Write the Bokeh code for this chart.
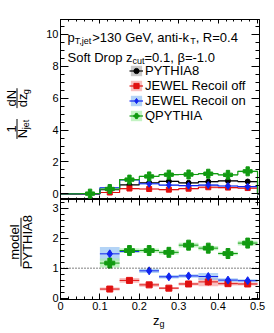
from bokeh.plotting import figure
from bokeh.layouts import column, row
from bokeh.models import (Label, Range1d, LinearAxis, FixedTicker,
                          Span, Legend, LegendItem)
from bokeh.embed import file_html
from bokeh.resources import INLINE

FONT = "Liberation Sans"

# ---------------- data ----------------
edges = [0.0, 0.05, 0.1, 0.15, 0.2, 0.25, 0.3, 0.35, 0.4, 0.45, 0.5]

pythia8        = [0.0, 0.0, 0.26, 0.56, 0.69, 0.78, 0.69, 0.76, 0.81, 0.77]
pythia8_sys    = [0.0, 0.0, 0.02, 0.03, 0.03, 0.04, 0.04, 0.05, 0.05, 0.04]
pythia8_stat   = [0.0, 0.0, 0.02, 0.03, 0.03, 0.03, 0.03, 0.03, 0.03, 0.03]
recoil_off     = [0.0, 0.0, 0.08, 0.33, 0.30, 0.26, 0.32, 0.41, 0.39, 0.36]
recoil_off_sys = [0.0, 0.0, 0.02, 0.04, 0.03, 0.03, 0.04, 0.08, 0.04, 0.04]
recoil_off_stat= [0.0, 0.0, 0.02, 0.02, 0.02, 0.02, 0.02, 0.04, 0.02, 0.02]
recoil_on      = [0.0, 0.0, 0.38, 0.87, 0.63, 0.55, 0.51, 0.55, 0.49, 0.45]
recoil_on_sys  = [0.0, 0.0, 0.05, 0.04, 0.04, 0.04, 0.04, 0.07, 0.04, 0.04]
recoil_on_stat = [0.0, 0.0, 0.04, 0.04, 0.03, 0.03, 0.03, 0.04, 0.03, 0.03]
qpythia        = [0.0, 0.01, 0.30, 0.89, 1.09, 1.20, 1.21, 1.26, 1.19, 1.41]
qpythia_sys    = [0.0, 0.01, 0.03, 0.04, 0.04, 0.05, 0.05, 0.05, 0.05, 0.06]
qpythia_stat   = [0.0, 0.01, 0.03, 0.04, 0.04, 0.04, 0.04, 0.04, 0.04, 0.05]

ratio_edges    = [0.1, 0.15, 0.2, 0.25, 0.3, 0.35, 0.4, 0.45, 0.5]
ratio_off      = [0.30, 0.59, 0.44, 0.33, 0.47, 0.54, 0.48, 0.47]
ratio_off_sys  = [0.05, 0.08, 0.06, 0.04, 0.05, 0.15, 0.06, 0.05]
ratio_off_stat = [0.03, 0.04, 0.03, 0.03, 0.04, 0.12, 0.04, 0.04]
ratio_on       = [1.48, 1.56, 0.91, 0.71, 0.74, 0.72, 0.60, 0.58]
ratio_on_sys   = [0.23, 0.05, 0.07, 0.06, 0.06, 0.12, 0.06, 0.05]
ratio_on_stat  = [0.12, 0.08, 0.06, 0.05, 0.06, 0.08, 0.06, 0.06]
ratio_q        = [1.17, 1.59, 1.59, 1.53, 1.77, 1.67, 1.49, 1.84]
ratio_q_sys    = [0.15, 0.08, 0.07, 0.07, 0.08, 0.07, 0.06, 0.08]
ratio_q_stat   = [0.08, 0.07, 0.06, 0.06, 0.06, 0.06, 0.05, 0.06]

labels = ["PYTHIA8", "JEWEL Recoil off", "JEWEL Recoil on", "QPYTHIA"]

x_ticks = [0.0, 0.1, 0.2, 0.3, 0.4, 0.5]
x_tick_labels = ["0", "0.1", "0.2", "0.3", "0.4", "0.5"]
x_minor = [round(i * 0.02, 2) for i in range(26)]
yt_ticks = [0, 2, 4, 6, 8, 10]
yt_minor = [i * 0.5 for i in range(23)]
yb_ticks = [0, 1, 2, 3]
yb_minor = [round(i * 0.2, 1) for i in range(17)]

# ---------------- style / layout ----------------
colors = ["#000000", "#e01010", "#1024f0", "#119a11"]
band_colors = ["#b4b4b4", "#f5a3a3", "#94c2f2", "#aaeeaa"]
markers = ["circle", "square", "diamond", "plus"]
msizes = [6, 6, 8, 10]

XR = (0.0, 0.505)
YT = (-0.358, 10.94)
YB = (-0.05, 3.30)
LABW = 36                    # width of the y-title strips
FW, FHT, FHB = 199, 180, 100
FL = 60                      # frame left (canvas px)
TOPB = 19                    # border above the top frame
BOTB = 15                    # border below the ratio frame
TOPH = TOPB + FHT            # 199
BOTH = FHB + BOTB            # 115
XLABH = 18
RIGHTB = 14

def tx(px):
    return XR[0] + (px - FL) * (XR[1] - XR[0]) / FW

def ty_top(py):
    return YT[0] + (TOPH - py) * (YT[1] - YT[0]) / FHT

AW = {' ': 278, ',': 278, '-': 333, '.': 278, '=': 584, '>': 584, 'β': 575,
      'A': 667, 'D': 722, 'E': 667, 'G': 778, 'H': 722, 'I': 278, 'J': 500, 'L': 556,
      'N': 722, 'P': 667, 'R': 722, 'S': 667, 'T': 611, 'V': 667, 'W': 944, 'Y': 667,
      'a': 556, 'c': 500, 'd': 556, 'e': 556, 'f': 278, 'g': 556, 'i': 222, 'j': 222,
      'k': 500, 'l': 222, 'm': 833, 'n': 556, 'o': 556, 'p': 556, 'r': 333, 't': 278,
      'u': 556, 'z': 500}

def tw(s, size):
    return sum(AW.get(c, 556) for c in s) * size / 1000.0


def clean(p):
    p.xgrid.visible = False
    p.ygrid.visible = False
    p.background_fill_color = "white"
    p.border_fill_color = "white"


def make_fig(yr, fh, btop, bbot):
    p = figure(x_range=Range1d(*XR), y_range=Range1d(*yr), frame_width=FW, frame_height=fh,
               output_backend="svg", toolbar_location=None,
               x_axis_location=None, y_axis_location=None,
               min_border_left=FL - LABW, min_border_right=RIGHTB,
               min_border_top=btop, min_border_bottom=bbot)
    clean(p)
    p.outline_line_color = "black"
    p.outline_line_width = 1
    return p


def make_strip(w, h):
    p = figure(width=w, height=h, x_range=Range1d(0, w), y_range=Range1d(0, h),
               output_backend="svg", toolbar_location=None,
               x_axis_location=None, y_axis_location=None, min_border=0)
    clean(p)
    p.outline_line_color = None
    return p


def add_axis(p, side, ticks, minor, tl, ml, show_labels, overrides=None):
    ax = LinearAxis(ticker=FixedTicker(ticks=ticks, minor_ticks=minor))
    ax.major_tick_in = tl
    ax.major_tick_out = 0
    ax.minor_tick_in = ml
    ax.minor_tick_out = 0
    ax.axis_line_color = "black"
    ax.major_tick_line_color = "black"
    ax.minor_tick_line_color = "black"
    if show_labels:
        ax.major_label_text_font = FONT
        ax.major_label_text_font_size = "11px"
        ax.major_label_text_color = "black"
        ax.major_label_standoff = 2
        if overrides:
            ax.major_label_overrides = overrides
    else:
        ax.major_label_text_font_size = "1px"
        ax.major_label_text_color = None
        ax.major_label_standoff = 0
        ax.major_label_overrides = {t: "" for t in ticks}
    p.add_layout(ax, side)


def add_text(p, x, y, text, size, angle=0, align="left", baseline="alphabetic"):
    p.add_layout(Label(x=x, y=y, text=text, text_font=FONT, text_font_size=f"{size}px",
                       text_color="black", angle=angle, angle_units="deg",
                       text_align=align, text_baseline=baseline))


# ---------------- top panel ----------------
top = make_fig(YT, FHT, TOPB, 0)
add_axis(top, "left", yt_ticks, yt_minor, 8, 4, True)
add_axis(top, "right", yt_ticks, yt_minor, 8, 4, False)
add_axis(top, "above", x_ticks, x_minor, 4, 2, False)
add_axis(top, "below", x_ticks, x_minor, 4, 2, False)

top_series = [(pythia8, pythia8_sys, pythia8_stat),
              (recoil_off, recoil_off_sys, recoil_off_stat),
              (recoil_on, recoil_on_sys, recoil_on_stat),
              (qpythia, qpythia_sys, qpythia_stat)]

legend_items = []
for k, (vals, sys_, stat) in enumerate(top_series):
    idx = [i for i in range(len(vals)) if sys_[i] > 0]
    band = top.quad(left=[edges[i] for i in idx], right=[edges[i + 1] for i in idx],
                    bottom=[vals[i] - sys_[i] for i in idx], top=[vals[i] + sys_[i] for i in idx],
                    fill_color=band_colors[k], fill_alpha=0.7, line_alpha=0)
    xs, ys = [], []
    for i, v in enumerate(vals):
        xs += [edges[i], edges[i + 1]]
        ys += [v, v]
    xs += [edges[-1], XR[1]]
    ys += [0, 0]
    line = top.line(xs, ys, line_color=colors[k], line_width=1.2)
    cen = [(edges[i] + edges[i + 1]) / 2 for i in idx]
    top.segment(x0=cen, x1=cen, y0=[vals[i] - stat[i] for i in idx],
                y1=[vals[i] + stat[i] for i in idx], line_color=colors[k], line_width=1)
    mk = top.scatter(cen, [vals[i] for i in idx], marker=markers[k], size=msizes[k] - 1,
                     fill_color=colors[k], line_color=colors[k])
    legend_items.append(LegendItem(label=labels[k], renderers=[band, line, mk]))

legend = Legend(items=legend_items, location=(69, 76), orientation="vertical",
                glyph_width=14, glyph_height=13, label_height=13, spacing=-1,
                label_standoff=2, padding=0, margin=0,
                label_text_font=FONT, label_text_font_size="13px", label_text_color="black",
                border_line_alpha=0, background_fill_alpha=0)
top.add_layout(legend)

def write_pieces(p, x0, base, pieces):
    x = x0
    for txt, size, drop in pieces:
        add_text(p, tx(x), ty_top(base + drop), txt, size)
        x += tw(txt, size)

write_pieces(top, 67, 37, [("p", 13, 0), ("T,jet", 9, 3), (">130 GeV, anti-k", 13, 0),
                           ("T", 9, 3), (", R=0.4", 13, 0)])
write_pieces(top, 67, 57, [("Soft Drop z", 13, 0), ("cut", 9, 3), ("=0.1, β=-1.0", 13, 0)])

# y title strip of the top panel (canvas px, y measured up from the strip bottom)
ylab_top = make_strip(LABW, TOPH)
def sy_t(py):
    return TOPH - py
add_text(ylab_top, 11, sy_t(121), "1", 13, angle=90, align="center", baseline="middle")
add_text(ylab_top, 22, sy_t(126), "N", 13, angle=90, align="center", baseline="middle")
add_text(ylab_top, 25.5, sy_t(116), "jet", 9, angle=90, align="center", baseline="middle")
add_text(ylab_top, 11, sy_t(87), "dN", 13, angle=90, align="center", baseline="middle")
add_text(ylab_top, 22, sy_t(89.5), "dz", 13, angle=90, align="center", baseline="middle")
add_text(ylab_top, 25.5, sy_t(80), "g", 9, angle=90, align="center", baseline="middle")
ylab_top.segment(x0=[16.5, 16.5], x1=[16.5, 16.5], y0=[sy_t(110), sy_t(76)],
                 y1=[sy_t(132), sy_t(98)], line_color="black", line_width=1)

# ---------------- ratio panel ----------------
bot = make_fig(YB, FHB, 0, BOTB)
add_axis(bot, "left", yb_ticks, yb_minor, 8, 4, True)
add_axis(bot, "right", yb_ticks, yb_minor, 8, 4, False)
add_axis(bot, "above", x_ticks, x_minor, 6, 3, False)
add_axis(bot, "below", x_ticks, x_minor, 6, 3, True,
         overrides={t: l for t, l in zip(x_ticks, x_tick_labels)})

bot.add_layout(Span(location=1, dimension="width", line_color="black", line_width=1,
                    line_dash="1 2"))

ratio_series = [(ratio_off, ratio_off_sys, ratio_off_stat),
                (ratio_on, ratio_on_sys, ratio_on_stat),
                (ratio_q, ratio_q_sys, ratio_q_stat)]
lo = ratio_edges[:-1]
hi = ratio_edges[1:]
cen_r = [(a + b) / 2 for a, b in zip(lo, hi)]
for k, (vals, sys_, stat) in enumerate(ratio_series, start=1):
    bot.quad(left=lo, right=hi, bottom=[v - s for v, s in zip(vals, sys_)],
             top=[v + s for v, s in zip(vals, sys_)],
             fill_color=band_colors[k], fill_alpha=0.7, line_alpha=0)
for k, (vals, sys_, stat) in enumerate(ratio_series, start=1):
    bot.segment(x0=lo, x1=hi, y0=vals, y1=vals, line_color=colors[k], line_width=1)
    bot.segment(x0=cen_r, x1=cen_r, y0=[v - s for v, s in zip(vals, stat)],
                y1=[v + s for v, s in zip(vals, stat)], line_color=colors[k], line_width=1)
    bot.scatter(cen_r, vals, marker=markers[k], size=msizes[k],
                fill_color=colors[k], line_color=colors[k])

# y title strip of the ratio panel (strip starts at canvas y = TOPH)
ylab_bot = make_strip(LABW, BOTH)
def sy_b(py):
    return TOPH + BOTH - py
add_text(ylab_bot, 13.5, sy_b(248), "model", 13, angle=90, align="center", baseline="middle")
add_text(ylab_bot, 27, sy_b(248), "PYTHIA8", 13, angle=90, align="center", baseline="middle")
ylab_bot.segment(x0=[20.5], x1=[20.5], y0=[sy_b(220)], y1=[sy_b(276)],
                 line_color="black", line_width=1)

# x title strip (z_g)
total_w = FL + FW + RIGHTB
xlab = make_strip(total_w, XLABH)
def sy_x(py):
    return TOPH + BOTH + XLABH - py
add_text(xlab, 152.5, sy_x(320), "z", 13)
add_text(xlab, 159, sy_x(323), "g", 9)

layout = column(row(ylab_top, top, spacing=0),
                row(ylab_bot, bot, spacing=0),
                xlab, spacing=0)
open("out.html", "w").write(file_html(layout, INLINE))
